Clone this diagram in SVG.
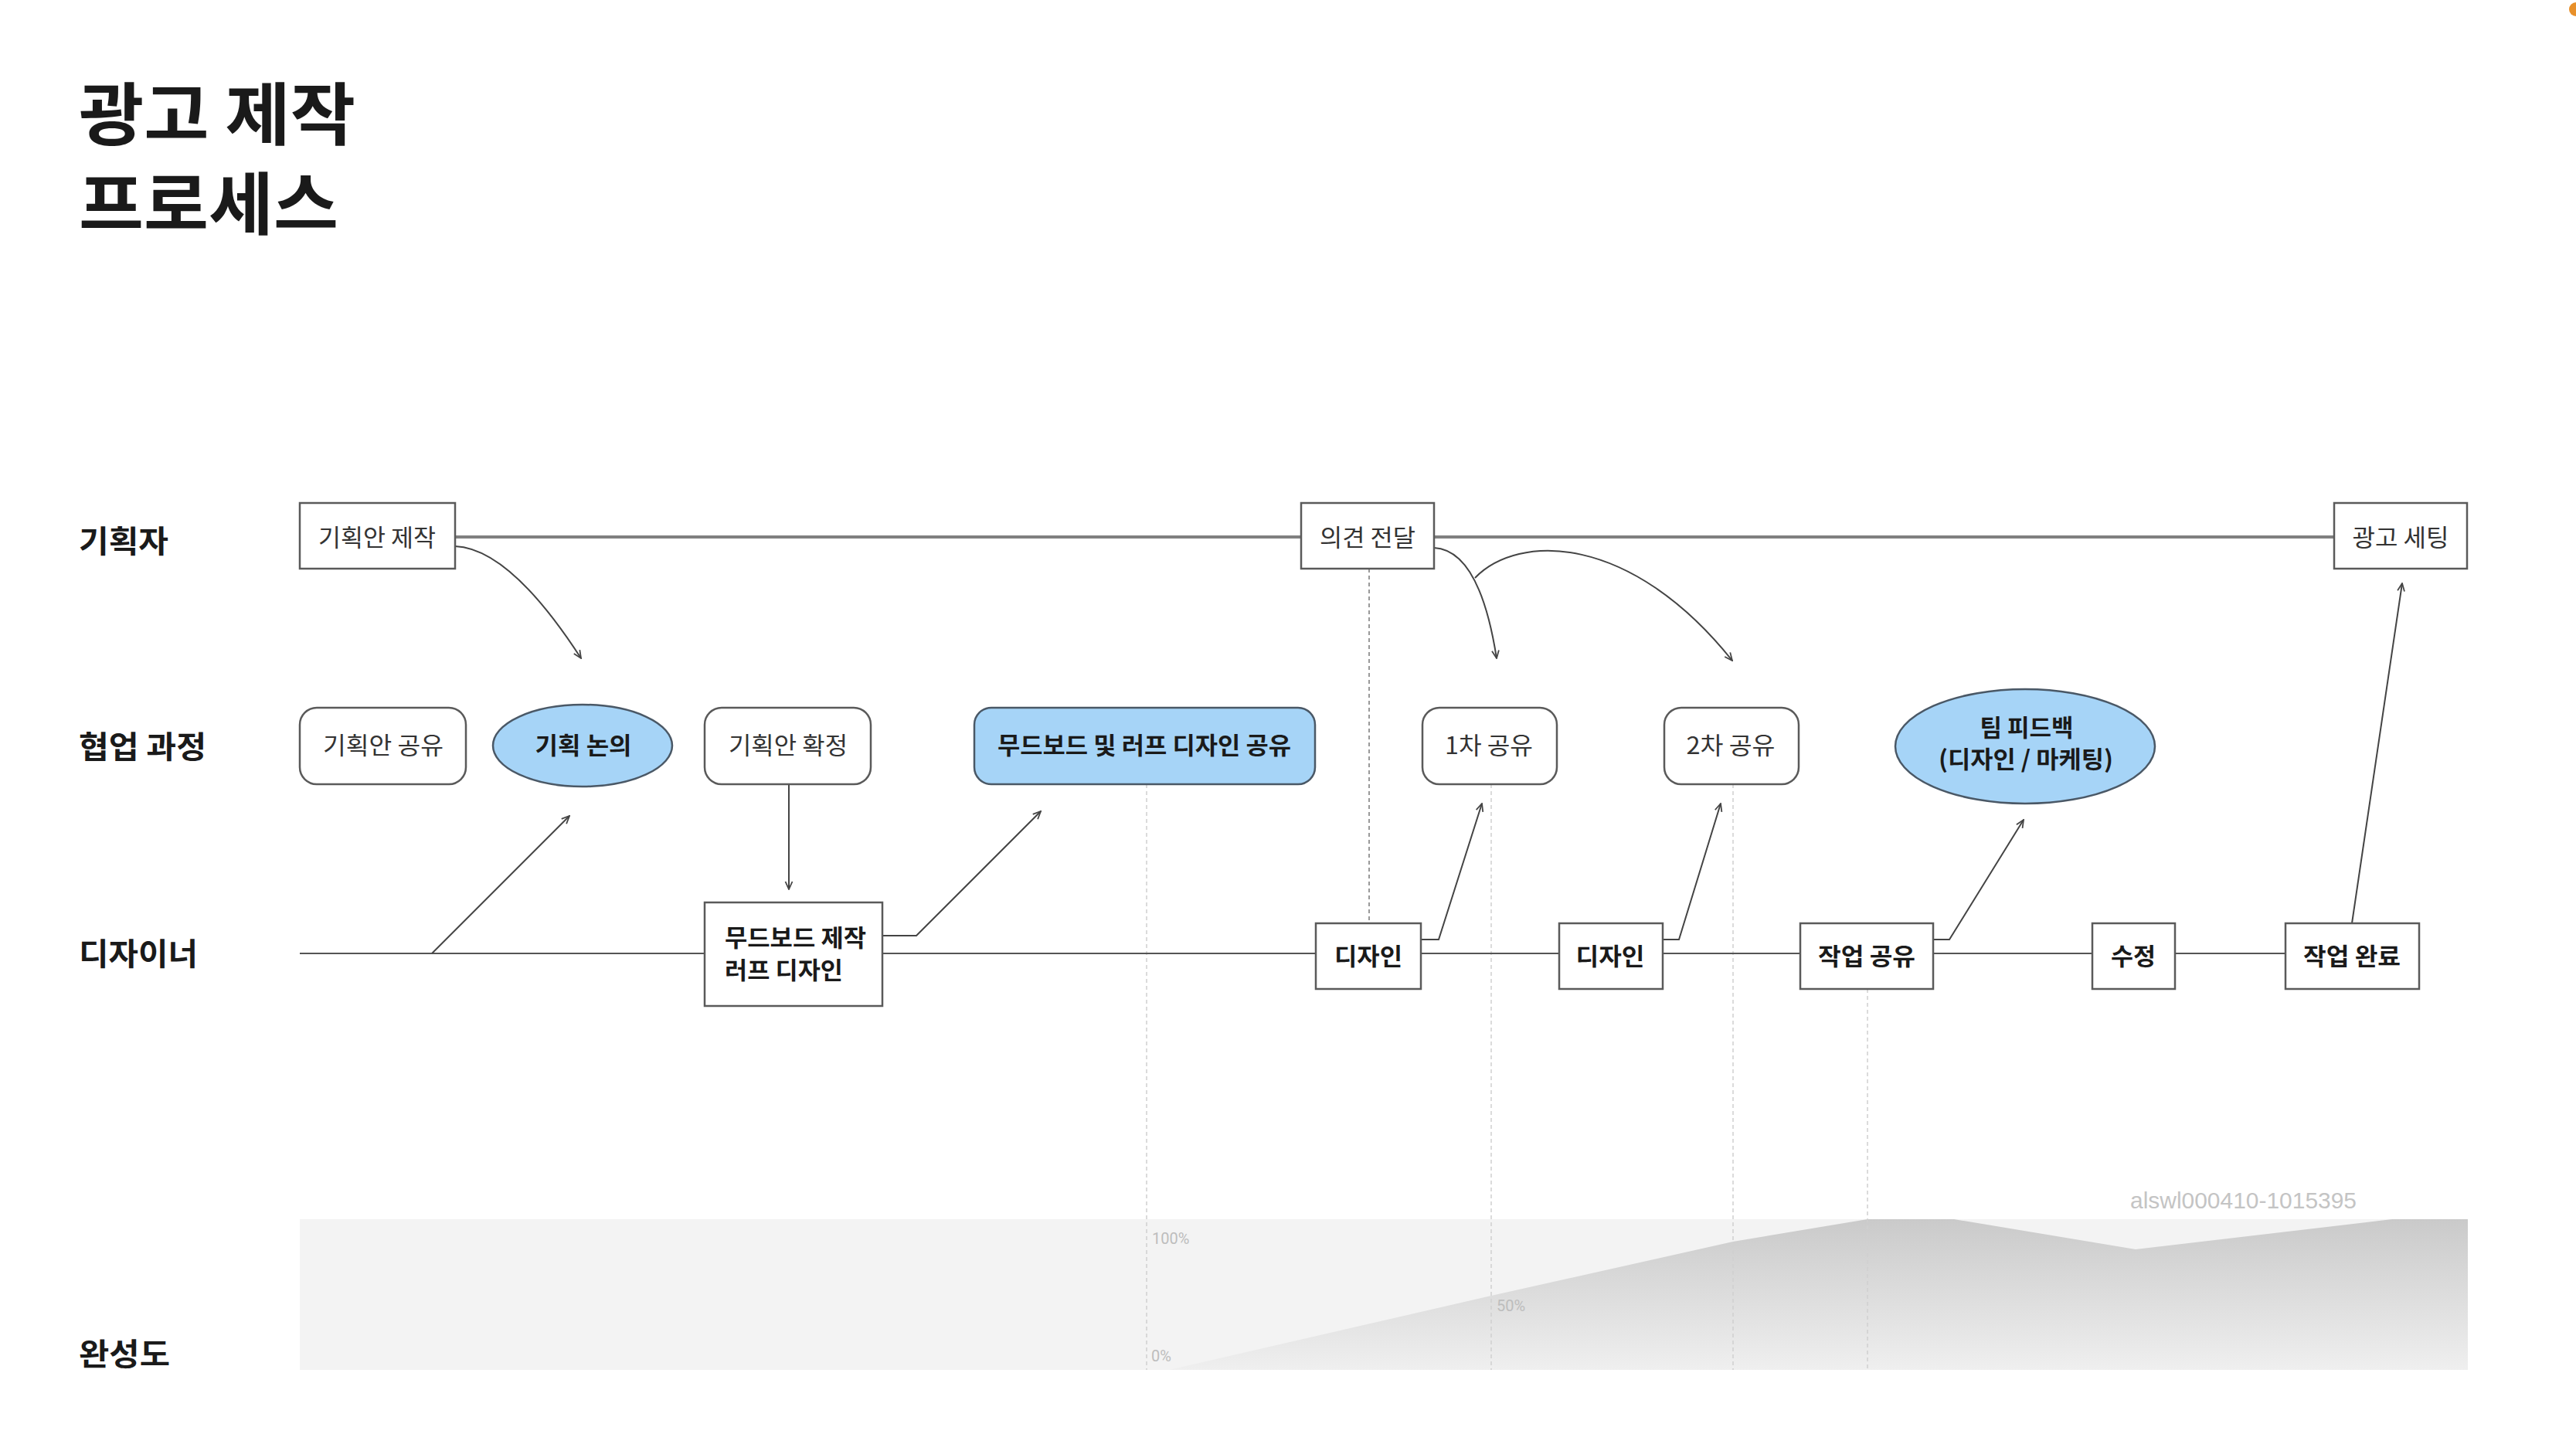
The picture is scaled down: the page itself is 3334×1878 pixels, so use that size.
<svg xmlns="http://www.w3.org/2000/svg" width="3334" height="1878" viewBox="0 0 3334 1878">
<defs>
<style>
.t{font-family:"Noto Sans CJK KR","Noto Sans",sans-serif;fill:#2a2a2a}
.title{font-size:88px;font-weight:700;fill:#1a1a1a}
.lane{font-size:40px;font-weight:700;fill:#1a1a1a}
.n{font-size:31px;font-weight:400;text-anchor:middle;fill:#333}
.b{font-size:31px;font-weight:700;text-anchor:middle;fill:#1a1a1a}
.box{fill:#fff;stroke:#5a5a5a;stroke-width:2.5}
.blue{fill:#a6d4f7;stroke:#4a5866;stroke-width:2.5}
.conn{fill:none;stroke:#444;stroke-width:2}
.lane1{fill:none;stroke:#808080;stroke-width:4}
.lane3{fill:none;stroke:#555;stroke-width:2.2}
.dash1{fill:none;stroke:#999;stroke-width:2;stroke-dasharray:5 4}
.dash2{fill:none;stroke:#cfcfcf;stroke-width:1.5;stroke-dasharray:5 4}
.pct{font-family:Roboto,"Liberation Sans",sans-serif;font-size:20px;fill:#bdbdbd}
</style>
<marker id="arr" viewBox="0 0 12 12" refX="11" refY="6" markerWidth="12" markerHeight="12" markerUnits="userSpaceOnUse" orient="auto">
<path d="M1,1.5 L11,6 L1,10.5" fill="none" stroke="#444" stroke-width="1.8"/>
</marker>
<linearGradient id="area" gradientUnits="userSpaceOnUse" x1="0" y1="1578" x2="0" y2="1773">
<stop offset="0" stop-color="#cacaca"/>
<stop offset="1" stop-color="#efefef"/>
</linearGradient>
</defs>
<rect x="0" y="0" width="3334" height="1878" fill="#fff"/>
<circle cx="3334" cy="12" r="9" fill="#e8902a"/>

<g id="title">
<text class="t title" x="102" y="180" textLength="358" lengthAdjust="spacingAndGlyphs">광고 제작</text>
<text class="t title" x="102" y="296" textLength="336" lengthAdjust="spacingAndGlyphs">프로세스</text>
</g>

<g id="lanes">
<text class="t lane" x="102" y="715" textLength="116" lengthAdjust="spacingAndGlyphs">기획자</text>
<text class="t lane" x="102" y="981" textLength="165" lengthAdjust="spacingAndGlyphs">협업 과정</text>
<text class="t lane" x="102" y="1249" textLength="154" lengthAdjust="spacingAndGlyphs">디자이너</text>
<text class="t lane" x="102" y="1767" textLength="118" lengthAdjust="spacingAndGlyphs">완성도</text>
</g>

<g id="chart">
<rect x="388" y="1578" width="2806" height="195" fill="#f3f3f3"/>
<polygon points="1513,1773 1930,1677 2243,1607 2417,1578 2529,1578 2764,1617 3096,1578 3194,1578 3194,1773" fill="url(#area)"/>
<text class="pct" x="1491" y="1610">100%</text>
<text class="pct" x="1937" y="1697">50%</text>
<text class="pct" x="1490" y="1762">0%</text>
</g>

<g id="guides">
<line class="dash2" x1="1484" y1="1015" x2="1484" y2="1773"/>
<line class="dash2" x1="1930" y1="1015" x2="1930" y2="1773"/>
<line class="dash2" x1="2243" y1="1015" x2="2243" y2="1773"/>
<line class="dash2" x1="2417" y1="1280" x2="2417" y2="1773"/>
</g>

<g id="connectors">
<line class="lane1" x1="589" y1="695" x2="1684" y2="695"/>
<line class="lane1" x1="1856" y1="695" x2="3021" y2="695"/>
<line class="lane3" x1="388" y1="1234" x2="912" y2="1234"/>
<line class="lane3" x1="1142" y1="1234" x2="1703" y2="1234"/>
<line class="lane3" x1="1839" y1="1234" x2="2018" y2="1234"/>
<line class="lane3" x1="2152" y1="1234" x2="2330" y2="1234"/>
<line class="lane3" x1="2502" y1="1234" x2="2708" y2="1234"/>
<line class="lane3" x1="2815" y1="1234" x2="2958" y2="1234"/>
<line class="dash1" x1="1772" y1="736" x2="1772" y2="1195"/>
<path class="conn" d="M589,707 Q660,710 752,852" marker-end="url(#arr)"/>
<line class="conn" x1="559" y1="1234" x2="737" y2="1056" marker-end="url(#arr)"/>
<line class="conn" x1="1021" y1="1015" x2="1021" y2="1151" marker-end="url(#arr)"/>
<polyline class="conn" points="1142,1211 1186,1211 1347,1050" marker-end="url(#arr)"/>
<path class="conn" d="M1856,709 Q1915,712 1937,852" marker-end="url(#arr)"/>
<path class="conn" d="M1909,748 C1965,690 2110,690 2242,855" marker-end="url(#arr)"/>
<polyline class="conn" points="1839,1216 1862,1216 1918,1040" marker-end="url(#arr)"/>
<polyline class="conn" points="2152,1216 2173,1216 2227,1040" marker-end="url(#arr)"/>
<polyline class="conn" points="2502,1216 2523,1216 2619,1061" marker-end="url(#arr)"/>
<line class="conn" x1="3044" y1="1195" x2="3109" y2="755" marker-end="url(#arr)"/>
</g>

<g id="n-plan-make">
<rect class="box" x="388" y="651" width="201" height="85"/>
<text class="t n" x="488" y="707" textLength="152" lengthAdjust="spacingAndGlyphs">기획안 제작</text>
</g>
<g id="n-feedback">
<rect class="box" x="1684" y="651" width="172" height="85"/>
<text class="t n" x="1770" y="707" textLength="124" lengthAdjust="spacingAndGlyphs">의견 전달</text>
</g>
<g id="n-ad-setting">
<rect class="box" x="3021" y="651" width="172" height="85"/>
<text class="t n" x="3107" y="707" textLength="125" lengthAdjust="spacingAndGlyphs">광고 세팅</text>
</g>

<g id="n-plan-share">
<rect class="box" x="388" y="916" width="215" height="99" rx="22"/>
<text class="t n" x="496" y="976" textLength="156" lengthAdjust="spacingAndGlyphs">기획안 공유</text>
</g>
<g id="n-plan-discuss">
<ellipse class="blue" cx="754" cy="965" rx="116" ry="53"/>
<text class="t b" x="755" y="976" textLength="125" lengthAdjust="spacingAndGlyphs">기획 논의</text>
</g>
<g id="n-plan-confirm">
<rect class="box" x="912" y="916" width="215" height="99" rx="22"/>
<text class="t n" x="1020" y="976" textLength="154" lengthAdjust="spacingAndGlyphs">기획안 확정</text>
</g>
<g id="n-mood-share">
<rect class="blue" x="1261" y="916" width="441" height="99" rx="22"/>
<text class="t b" x="1481" y="976" textLength="380" lengthAdjust="spacingAndGlyphs">무드보드 및 러프 디자인 공유</text>
</g>
<g id="n-share1">
<rect class="box" x="1841" y="916" width="174" height="99" rx="22"/>
<text class="t n" x="1927" y="976" textLength="114" lengthAdjust="spacingAndGlyphs">1차 공유</text>
</g>
<g id="n-share2">
<rect class="box" x="2154" y="916" width="174" height="99" rx="22"/>
<text class="t n" x="2240" y="976" textLength="115" lengthAdjust="spacingAndGlyphs">2차 공유</text>
</g>
<g id="n-team-feedback">
<ellipse class="blue" cx="2621" cy="966" rx="168" ry="74"/>
<text class="t b" x="2623" y="953" textLength="121" lengthAdjust="spacingAndGlyphs">팀 피드백</text>
<text class="t b" x="2622" y="994" textLength="226" lengthAdjust="spacingAndGlyphs">(디자인 / 마케팅)</text>
</g>

<g id="n-moodboard">
<rect class="box" x="912" y="1168" width="230" height="134"/>
<text class="t b" x="938" y="1225" style="text-anchor:start" textLength="183" lengthAdjust="spacingAndGlyphs">무드보드 제작</text>
<text class="t b" x="938" y="1267" style="text-anchor:start" textLength="153" lengthAdjust="spacingAndGlyphs">러프 디자인</text>
</g>
<g id="n-design1">
<rect class="box" x="1703" y="1195" width="136" height="85"/>
<text class="t b" x="1771" y="1249" textLength="88" lengthAdjust="spacingAndGlyphs">디자인</text>
</g>
<g id="n-design2">
<rect class="box" x="2018" y="1195" width="134" height="85"/>
<text class="t b" x="2084" y="1249" textLength="89" lengthAdjust="spacingAndGlyphs">디자인</text>
</g>
<g id="n-work-share">
<rect class="box" x="2330" y="1195" width="172" height="85"/>
<text class="t b" x="2416" y="1249" textLength="126" lengthAdjust="spacingAndGlyphs">작업 공유</text>
</g>
<g id="n-revise">
<rect class="box" x="2708" y="1195" width="107" height="85"/>
<text class="t b" x="2761" y="1249" textLength="58" lengthAdjust="spacingAndGlyphs">수정</text>
</g>
<g id="n-done">
<rect class="box" x="2958" y="1195" width="173" height="85"/>
<text class="t b" x="3044" y="1249" textLength="126" lengthAdjust="spacingAndGlyphs">작업 완료</text>
</g>

<text x="2757" y="1564" font-family="Liberation Sans, Arial, sans-serif" font-size="29" fill="#c4c4c4" textLength="293" lengthAdjust="spacingAndGlyphs">alswl000410-1015395</text>
</svg>
